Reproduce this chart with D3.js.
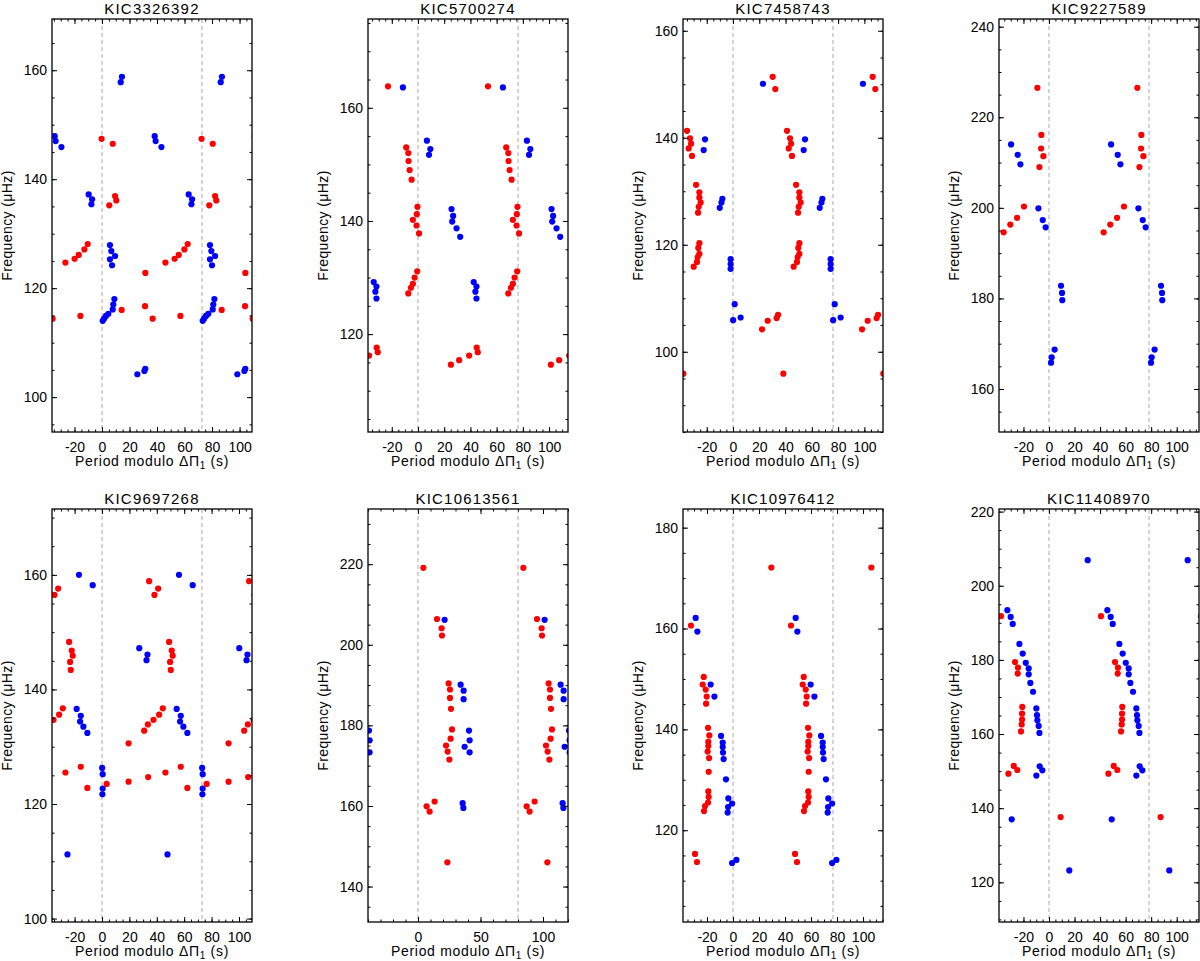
<!DOCTYPE html>
<html>
<head>
<meta charset="utf-8">
<script src="https://cdn.jsdelivr.net/npm/d3@7"></script>
<style>
  body { margin: 0; background: #fff; }
  svg { display: block; }
  text { font-family: "Liberation Sans", Arial, Helvetica, sans-serif; }
</style>
</head>
<body>
<div id="chart"></div>
<script>
// Modes: [period modulo dPi1 (s), frequency (muHz)]
// only one period is stored, copies at -dPi1 and +dPi1 are drawn as in the figure
const red3326392 = [[72.4,147.4],[7.8,146.5],[9.5,136.9],[10.4,136.1],[5.3,135.2],[14.3,116.0],[31.5,122.8],[31.3,116.7],[36.8,114.4],[46.1,124.7],[52.8,125.4],[55.8,126.1],[59.9,127.1],[62.3,128.1],[57.0,114.9]];
const blue3326392 = [[14.5,158.8],[13.6,157.8],[38.3,147.9],[39.0,147.0],[43.2,145.9],[63.0,137.2],[65.5,136.3],[65.0,135.4],[5.8,127.9],[6.8,126.8],[9.5,125.9],[5.8,125.3],[7.3,124.2],[9.0,118.0],[8.2,117.0],[7.8,116.1],[4.6,115.3],[2.9,114.9],[1.5,114.4],[0.5,114.0],[25.7,104.2],[30.8,104.8],[31.5,105.2]];

const red5700274 = [[53.4,163.8],[67.3,153.0],[68.9,152.0],[69.1,150.6],[69.9,149.0],[71.4,147.3],[75.9,142.5],[75.4,141.2],[72.4,140.2],[75.2,139.2],[0.8,137.8],[75.7,131.1],[73.7,130.0],[72.4,128.9],[70.9,128.2],[68.9,127.2],[25.1,114.6],[31.4,115.4],[39.0,116.2],[44.8,117.6],[45.6,116.8]];
const blue5700274 = [[64.8,163.6],[6.8,154.2],[9.4,152.7],[8.4,151.7],[25.6,142.1],[26.8,140.9],[26.1,139.9],[29.4,138.7],[32.2,137.2],[42.5,129.2],[44.6,128.4],[43.8,127.5],[44.6,126.3]];

const red7458743 = [[30.2,151.4],[32.2,149.1],[41.1,141.3],[43.4,139.9],[44.2,138.9],[42.4,138.0],[44.9,136.6],[48.0,131.2],[50.5,129.8],[50.5,128.8],[51.5,127.9],[50.0,127.1],[49.5,126.0],[50.5,120.3],[49.7,119.4],[50.5,118.3],[49.2,117.7],[48.7,116.8],[46.2,115.9],[22.1,104.2],[26.4,105.8],[33.2,106.3],[34.3,106.9],[38.3,95.9]];
const blue7458743 = [[22.8,150.1],[54.8,139.7],[53.8,137.7],[66.0,126.9],[67.3,127.9],[68.0,128.6],[74.3,117.3],[74.3,116.4],[74.3,115.5],[1.3,108.9],[0.1,105.9],[5.8,106.4]];

const red9227589 = [[69.2,226.5],[72.3,216.1],[72.1,213.1],[73.9,211.4],[70.8,209.0],[42.8,194.6],[48.0,196.3],[53.3,197.8],[58.7,200.3]];
const blue9227589 = [[48.6,214.0],[53.8,211.7],[55.9,209.6],[70.0,199.9],[73.4,197.3],[75.7,195.7],[9.4,182.8],[10.2,181.2],[10.4,179.6],[4.4,168.7],[2.1,167.0],[1.6,165.8]];

const red9697268 = [[34.4,158.9],[41.0,157.6],[38.3,156.5],[49.0,148.3],[50.9,146.8],[51.6,145.9],[49.7,144.8],[50.2,143.4],[19.4,130.6],[30.8,132.8],[33.5,133.9],[37.6,134.7],[41.7,135.6],[44.4,136.7],[19.4,123.9],[33.7,124.7],[46.3,125.5],[57.5,126.5],[62.3,122.8],[3.4,123.5]];
const blue9697268 = [[56.2,160.0],[66.2,158.2],[27.2,147.2],[33.2,146.1],[32.5,145.1],[54.5,136.6],[57.5,135.4],[57.0,134.4],[59.4,133.5],[62.3,132.4],[0.1,126.3],[0.5,125.2],[0.5,122.7],[0.3,121.7],[47.8,111.2]];

const red10613561 = [[4.3,219.1],[15.2,206.4],[18.9,204.1],[19.2,202.3],[24.5,190.4],[25.6,188.9],[25.6,186.8],[26.4,184.1],[27.2,179.0],[26.1,176.7],[22.4,175.0],[23.7,173.5],[25.1,171.5],[6.9,159.9],[9.3,158.6],[13.3,161.1],[23.5,146.0]];
const blue10613561 = [[21.3,206.2],[34.1,190.1],[36.5,188.6],[36.5,186.5],[40.8,178.7],[41.3,176.3],[37.3,174.7],[41.3,173.3],[35.7,160.7],[36.3,159.5]];

const red10976412 = [[29.5,172.1],[44.6,160.6],[54.4,150.4],[53.6,148.9],[55.9,147.9],[56.7,146.5],[56.2,145.1],[57.7,140.3],[58.7,138.8],[57.9,137.5],[57.9,136.7],[57.4,135.6],[58.5,134.3],[58.2,131.6],[57.9,127.7],[58.2,126.6],[57.7,125.5],[55.4,124.8],[54.6,123.8],[47.7,115.3],[49.2,113.7]];
const blue10976412 = [[48.2,162.1],[49.5,159.4],[59.7,148.9],[62.6,146.5],[67.7,138.7],[69.0,137.4],[69.0,136.5],[69.2,135.4],[69.7,134.1],[71.5,130.1],[73.3,126.3],[76.2,125.3],[73.1,124.6],[72.8,123.5],[76.2,113.5],[2.6,114.1]];

const red11408970 = [[40.7,191.8],[51.7,179.4],[54.0,177.9],[53.8,176.3],[57.4,167.3],[57.2,165.5],[57.2,163.9],[56.9,162.6],[56.4,160.7],[50.7,151.4],[53.5,150.3],[46.5,149.3],[9.1,137.6]];
const blue11408970 = [[30.3,206.9],[45.7,193.4],[48.3,191.6],[49.9,189.7],[55.1,184.3],[57.7,181.7],[60.1,179.2],[62.4,177.7],[62.4,176.1],[63.7,173.8],[65.8,171.4],[68.4,166.9],[68.9,165.1],[69.2,163.7],[70.2,162.2],[70.8,160.3],[71.0,151.3],[73.1,150.2],[68.4,148.8],[49.1,137.0],[15.9,123.2]];

const starNames = ["KIC3326392", "KIC5700274", "KIC7458743", "KIC9227589",
                   "KIC9697268", "KIC10613561", "KIC10976412", "KIC11408970"];
const periodSpacings = [72.7, 76.3, 76.1, 78.3, 73.0, 80.0, 76.9, 78.3];
const freqRanges = [[93.6,169.4],[102.7,175.7],[85.0,162.2],[150.5,241.7],
                    [99.4,171.5],[131.2,233.7],[101.8,183.7],[109.3,220.7]];
const xMajorSteps = [20, 20, 20, 20, 20, 50, 20, 20];
const redModes = [red3326392, red5700274, red7458743, red9227589, red9697268, red10613561, red10976412, red11408970];
const blueModes = [blue3326392, blue5700274, blue7458743, blue9227589, blue9697268, blue10613561, blue10976412, blue11408970];

// layout
const colLefts = [52, 368, 683, 999], rowTops = [19, 509];
const pw = 200, ph = 413;

const svg = d3.select("#chart").append("svg")
    .attr("width", 1200)
    .attr("height", 961);

function tickVals(dom, step) {
    const lo = Math.min(dom[0], dom[1]), hi = Math.max(dom[0], dom[1]);
    return d3.range(Math.ceil(lo / step) * step, hi + 1e-9, step);
}

function styleAxis(a) {
    a.select(".domain").remove();
    a.selectAll(".tick line").attr("stroke", "#000").attr("stroke-width", 1);
    a.attr("font-family", null).attr("font-size", 14);
    a.selectAll("text").attr("fill", "#000");
}

starNames.forEach((name, i) => {
    const left = colLefts[i % 4], top = rowTops[Math.floor(i / 4)];
    const dp = periodSpacings[i];
    const x = d3.scaleLinear().domain([-dp / 2, 1.5 * dp]).range([0, pw]);
    const y = d3.scaleLinear().domain(freqRanges[i]).range([ph, 0]);

    const g = svg.append("g").attr("transform", `translate(${left},${top})`);

    g.append("clipPath").attr("id", "clip" + i)
        .append("rect").attr("width", pw).attr("height", ph);

    // dashed lines at 0 and dPi1
    g.selectAll(".ref").data([0, dp]).enter().append("line")
        .attr("x1", d => x(d)).attr("x2", d => x(d))
        .attr("y1", 0).attr("y2", ph)
        .attr("stroke", "#aaaaaa")
        .attr("stroke-width", 1)
        .attr("stroke-dasharray", "4,3");

    // data, repeated one period to each side
    const dots = g.append("g").attr("clip-path", `url(#clip${i})`);
    const dom = x.domain();
    const repeat = arr => arr.flatMap(([p, f]) => [-dp, 0, dp].map(s => [p + s, f]))
        .filter(d => d[0] > dom[0] - 3 && d[0] < dom[1] + 3);

    [[blueModes[i], "#0000ff"], [redModes[i], "#ff0000"]].forEach(([arr, col]) => {
        dots.selectAll(null).data(repeat(arr)).enter().append("circle")
            .attr("cx", d => x(d[0]))
            .attr("cy", d => y(d[1]))
            .attr("r", 3.1)
            .attr("fill", col);
    });

    // axes, ticks inward on all four sides
    const xStep = xMajorSteps[i], xMinorStep = xStep === 50 ? 10 : 5;
    const xMaj = tickVals(dom, xStep), xMin = tickVals(dom, xMinorStep);
    const yMaj = tickVals(y.domain(), 20), yMin = tickVals(y.domain(), 5);

    g.append("g").attr("transform", `translate(0,${ph})`)
        .call(d3.axisBottom(x).tickValues(xMin).tickSize(-2.5).tickFormat(""))
        .call(styleAxis);
    g.append("g").attr("transform", `translate(0,${ph})`)
        .call(d3.axisBottom(x).tickValues(xMaj).tickSize(-5).tickPadding(10).tickFormat(d => String(d)))
        .call(styleAxis);
    g.append("g")
        .call(d3.axisTop(x).tickValues(xMin).tickSize(-2.5).tickFormat(""))
        .call(styleAxis);
    g.append("g")
        .call(d3.axisTop(x).tickValues(xMaj).tickSize(-5).tickFormat(""))
        .call(styleAxis);

    g.append("g")
        .call(d3.axisLeft(y).tickValues(yMin).tickSize(-2.5).tickFormat(""))
        .call(styleAxis);
    g.append("g")
        .call(d3.axisLeft(y).tickValues(yMaj).tickSize(-5).tickPadding(5).tickFormat(d => String(d)))
        .call(styleAxis);
    g.append("g").attr("transform", `translate(${pw},0)`)
        .call(d3.axisRight(y).tickValues(yMin).tickSize(-2.5).tickFormat(""))
        .call(styleAxis);
    g.append("g").attr("transform", `translate(${pw},0)`)
        .call(d3.axisRight(y).tickValues(yMaj).tickSize(-5).tickFormat(""))
        .call(styleAxis);

    // frame
    g.append("rect")
        .attr("width", pw).attr("height", ph)
        .attr("fill", "none")
        .attr("stroke", "#000")
        .attr("stroke-width", 1.3);

    // title
    g.append("text")
        .attr("x", pw / 2).attr("y", -5)
        .attr("text-anchor", "middle")
        .style("font-size", "15px")
        .style("letter-spacing", "1.2px")
        .text(name);

    // x label
    const xl = g.append("text")
        .attr("x", pw / 2).attr("y", ph + 34)
        .attr("text-anchor", "middle")
        .style("font-size", "14px")
        .style("letter-spacing", "0.7px");
    xl.append("tspan").text("Period modulo \u0394\u03a0");
    xl.append("tspan").attr("dy", 3).style("font-size", "10px").text("1");
    xl.append("tspan").attr("dy", -3).text(" (s)");

    // y label
    g.append("text")
        .attr("transform", "rotate(-90)")
        .attr("x", -ph / 2).attr("y", -40)
        .attr("text-anchor", "middle")
        .style("font-size", "14px")
        .style("letter-spacing", "0.4px")
        .text("Frequency (\u03bcHz)");
});
</script>
</body>
</html>
